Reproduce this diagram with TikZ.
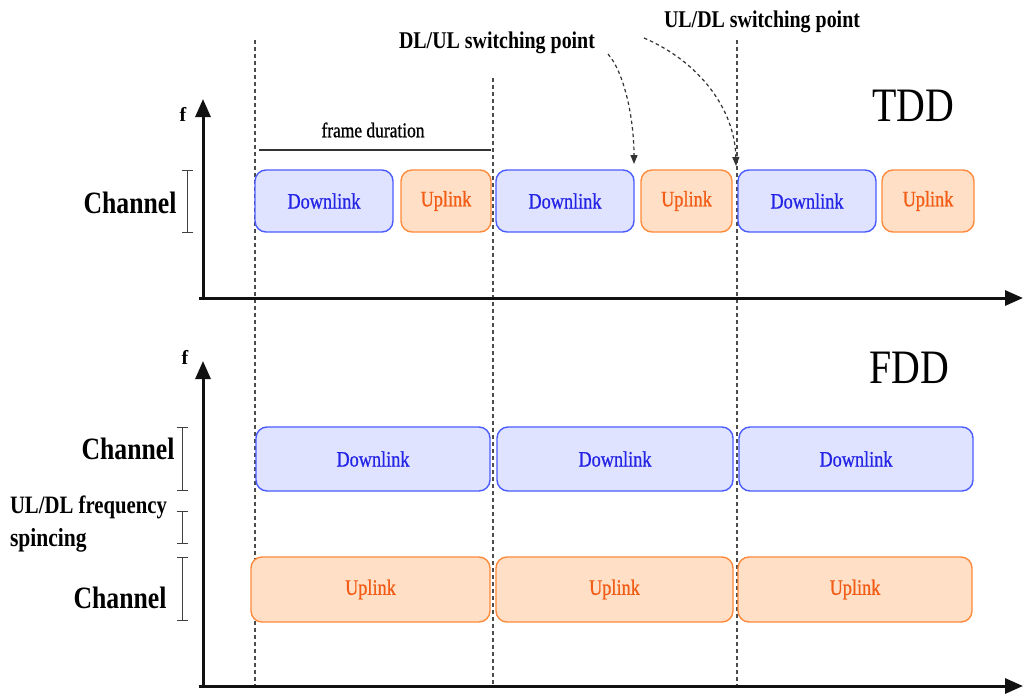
\documentclass[tikz,border=0pt]{standalone}
\usepackage{fontspec}
\usepackage{graphicx}
\setmainfont{Liberation Serif}
\newfontfamily\semib[FakeBold=0.9]{Liberation Serif}
\usetikzlibrary{arrows.meta}
\definecolor{dlfill}{HTML}{E0E3FF}
\definecolor{dldraw}{HTML}{4A5CFF}
\definecolor{dltext}{HTML}{2424E6}
\definecolor{ulfill}{HTML}{FFE0C6}
\definecolor{uldraw}{HTML}{FF8A3C}
\definecolor{ultext}{HTML}{F25C16}
\definecolor{axcol}{HTML}{111111}
\newcommand{\cnd}[1]{\scalebox{0.83}[1]{#1}}
\tikzset{
  every node/.style={inner sep=0pt, outer sep=0pt},
  dlbox/.style={draw=dldraw, fill=dlfill, line width=1.4pt, rounded corners=11pt, text=dltext, font=\semib\fontsize{22}{24}\selectfont},
  ulbox/.style={draw=uldraw, fill=ulfill, line width=1.4pt, rounded corners=11pt, text=ultext, font=\semib\fontsize{22}{24}\selectfont},
  axis/.style={line width=3pt, draw=axcol, -{Triangle[length=18pt,width=15pt]}},
  guide/.style={dashed, dash pattern=on 4pt off 3pt, line width=1.3pt, draw=black!70},
  brk/.style={line width=1pt, draw=black!75, {Bar[width=11pt]}-{Bar[width=11pt]}},
  lbl/.style={font=\fontsize{31}{33}\bfseries\selectfont},
  swlbl/.style={font=\fontsize{24}{26}\bfseries\selectfont},
  swarrow/.style={dashed, dash pattern=on 3.5pt off 3pt, line width=1.2pt, draw=black!80, -{Triangle[length=9pt,width=7pt]}},
  big/.style={font=\fontsize{48}{50}\selectfont}
}
\begin{document}
\begin{tikzpicture}[x=1pt,y=-1pt]
\useasboundingbox (0,0) rectangle (1033,699);
\fill[white] (0,0) rectangle (1033,699);

% vertical guide lines
\coordinate (g1t) at (255,40);  \coordinate (g1b) at (255,686);
\coordinate (g2t) at (493,78);  \coordinate (g2b) at (493,686);
\coordinate (g3t) at (737,40);  \coordinate (g3b) at (737,686);
\draw[guide] (g1t) -- (g1b);
\draw[guide] (g2t) -- (g2b);
\draw[guide] (g3t) -- (g3b);

% TDD axes
\coordinate (to) at (203,298);
\coordinate (tol) at (199,298);
\coordinate (ty) at (203,99);
\coordinate (tx) at (1023,298);
\draw[axis] (to) -- (ty);
\draw[axis] (tol) -- (tx);
\node (tf) at (183,114) {\fontsize{20}{22}\bfseries\selectfont f};
\node[big] (tdd) at (913,106) {\cnd{TDD}};

% frame duration
\node (fd) at (373,130) {\semib\fontsize{21}{23}\selectfont\cnd{frame duration}};
\coordinate (fdl) at (259,150);
\coordinate (fdr) at (491,150);
\draw[line width=1.6pt, draw=black!80] (fdl) -- (fdr);

% TDD boxes
\node[dlbox, minimum width=138pt, minimum height=62pt] (tdl1) at (324,201) {\cnd{Downlink}};
\node[ulbox, minimum width=90pt, minimum height=62pt] (tul1) at (446,201) {\cnd{Uplink}};
\node[dlbox, minimum width=138pt, minimum height=62pt] (tdl2) at (565,201) {\cnd{Downlink}};
\node[ulbox, minimum width=91pt, minimum height=62pt] (tul2) at (686.5,201) {\cnd{Uplink}};
\node[dlbox, minimum width=138pt, minimum height=62pt] (tdl3) at (807,201) {\cnd{Downlink}};
\node[ulbox, minimum width=92pt, minimum height=62pt] (tul3) at (928,201) {\cnd{Uplink}};

% TDD channel label
\node[lbl] (tch) at (130,203) {\cnd{Channel}};
\coordinate (tb1) at (187,170);
\coordinate (tb2) at (187,233);
\draw[brk] (tb1) -- (tb2);

% switching points
\node[swlbl] (dlul) at (497,43) {\cnd{DL/UL switching point}};
\node[swlbl] (uldl) at (762,22) {\cnd{UL/DL switching point}};
\coordinate (s1a) at (608,54);
\coordinate (s1b) at (634,164);
\coordinate (s2a) at (644,38);
\coordinate (s2b) at (736,166);
\draw[swarrow] (s1a) .. controls (624,72) and (634,118) .. (s1b);
\draw[swarrow] (s2a) .. controls (700,62) and (735,110) .. (s2b);

% FDD axes
\coordinate (fo) at (203,686);
\coordinate (fol) at (199,686);
\coordinate (fy) at (203,361);
\coordinate (fx) at (1023,686);
\draw[axis] (fo) -- (fy);
\draw[axis] (fol) -- (fx);
\node (ff) at (185,357) {\fontsize{20}{22}\bfseries\selectfont f};
\node[big] (fdd) at (909,368) {\cnd{FDD}};

% FDD boxes
\node[dlbox, minimum width=234pt, minimum height=64pt] (fdl1) at (373,459) {\cnd{Downlink}};
\node[dlbox, minimum width=236pt, minimum height=64pt] (fdl2) at (615,459) {\cnd{Downlink}};
\node[dlbox, minimum width=234pt, minimum height=64pt] (fdl3) at (856,459) {\cnd{Downlink}};
\node[ulbox, minimum width=239pt, minimum height=65pt] (ful1) at (370.5,589.5) {\cnd{Uplink}};
\node[ulbox, minimum width=237pt, minimum height=65pt] (ful2) at (614.5,589.5) {\cnd{Uplink}};
\node[ulbox, minimum width=234pt, minimum height=65pt] (ful3) at (855,589.5) {\cnd{Uplink}};

% FDD labels
\node[lbl] (fch1) at (128,449) {\cnd{Channel}};
\coordinate (fb1a) at (182,427);
\coordinate (fb1b) at (182,491);
\draw[brk] (fb1a) -- (fb1b);
\node[font=\fontsize{25}{27}\bfseries\selectfont, anchor=west] (spc1) at (10,507) {\cnd{UL/DL frequency}};
\node[font=\fontsize{26}{28}\bfseries\selectfont, anchor=west] (spc2) at (10,540) {\cnd{spincing}};
\coordinate (fb2a) at (182,511);
\coordinate (fb2b) at (182,544);
\draw[brk] (fb2a) -- (fb2b);
\node[lbl] (fch2) at (120,598) {\cnd{Channel}};
\coordinate (fb3a) at (182,557);
\coordinate (fb3b) at (182,621);
\draw[brk] (fb3a) -- (fb3b);
\end{tikzpicture}
\end{document}
